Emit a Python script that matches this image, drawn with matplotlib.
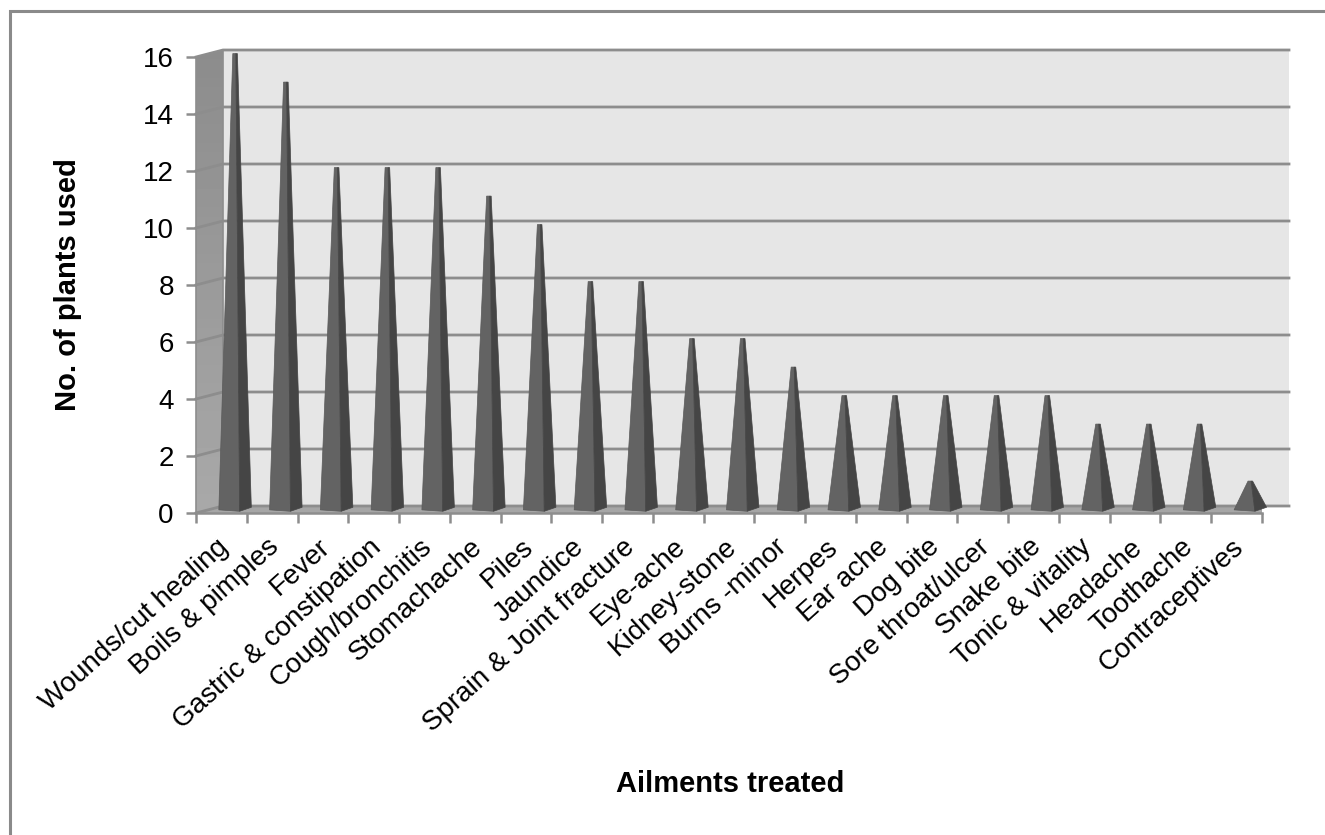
import matplotlib
matplotlib.use('Agg')
import matplotlib.pyplot as plt
import matplotlib.transforms as mtrans
from matplotlib.patches import Polygon
import numpy as np

ailments = ['Wounds/cut healing', 'Boils & pimples', 'Fever', 'Gastric & constipation',
            'Cough/bronchitis', 'Stomachache', 'Piles', 'Jaundice', 'Sprain & Joint fracture',
            'Eye-ache', 'Kidney-stone', 'Burns -minor', 'Herpes', 'Ear ache', 'Dog bite',
            'Sore throat/ulcer', 'Snake bite', 'Tonic & vitality', 'Headache', 'Toothache',
            'Contraceptives']
plants = [16, 15, 12, 12, 12, 11, 10, 8, 8, 6, 6, 5, 4, 4, 4, 4, 4, 3, 3, 3, 1]
yticks = [0, 2, 4, 6, 8, 10, 12, 14, 16]

plt.rcParams['font.family'] = ['Liberation Sans', 'DejaVu Sans']

W, H = 1325, 835
fig = plt.figure(figsize=(W / 100, H / 100), dpi=100)
# frame shows on the top and left only
fig.add_artist(plt.Line2D([9.5 / W, 9.5 / W, 1], [0, 1 - 11 / H, 1 - 11 / H], transform=fig.transFigure,
                          color='#8a8a8a', lw=2.2, solid_joinstyle='miter'))

# front edge of the box, in pixels
left, right, bottom, top = 196, 1262, 513, 57
ax = fig.add_axes([left / W, 1 - bottom / H, (right - left) / W, (bottom - top) / H])
n = len(plants)
ax.patch.set_visible(False)

# depth of the 3d box in data units
dx = 27 / ((right - left) / n)
dy = 7 / ((bottom - top) / 16)
grid_c = '#8d8d8d'

ax.add_patch(Polygon([(dx, dy), (n + dx, dy), (n + dx, 16 + dy), (dx, 16 + dy)],
                     fc='#e6e6e6', ec='none', zorder=1, clip_on=False))
wall = Polygon([(0, 0), (dx, dy), (dx, 16 + dy), (0, 16)], fc='none', ec='none', zorder=1, clip_on=False)
ax.add_patch(wall)
im = ax.imshow(np.linspace(0.55, 0.66, 50).reshape(-1, 1), extent=(0, dx, 0, 16 + dy), cmap='gray',
               vmin=0, vmax=1, aspect='auto', origin='upper', zorder=1)
im.set_clip_box(fig.bbox)
im.set_clip_path(wall)
ax.set_xlim(0, n)
ax.set_ylim(0, 16)
ax.add_patch(Polygon([(0, 0), (n, 0), (n + dx, dy), (dx, dy)], fc='#a6a6a6', ec='none', zorder=2))

for v in yticks:
    ax.plot([0, dx, n + dx], [v, v + dy, v + dy], color=grid_c, lw=2.0, zorder=2, clip_on=False)
ax.plot([dx, dx], [0 + dy, 16 + dy], color=grid_c, lw=1.2, zorder=2, clip_on=False)
ax.plot([0, 0], [0, 16], color=grid_c, lw=1.2, zorder=2, clip_on=False)

# pyramids: two visible faces, slightly blunt at the top
for i, v in enumerate(plants):
    cx = i + 0.5 + 0.27
    tl = (cx - 0.045, v + 0.12)
    tm = (cx + 0.015, v + 0.12)
    tr = (cx + 0.045, v + 0.12)
    bl = (cx - 0.32, 0.11)
    bm = (cx + 0.09, 0.06)
    br = (cx + 0.32, 0.2)
    ax.add_patch(Polygon([bl, bm, tm, tl], fc='#636363', ec='#5a5a5a', lw=0.5, zorder=3, clip_on=False))
    ax.add_patch(Polygon([bm, br, tr, tm], fc='#454545', ec='#454545', lw=0.5, zorder=3, clip_on=False))

for s in ['top', 'right', 'left']:
    ax.spines[s].set_visible(False)
ax.spines['bottom'].set_color(grid_c)
ax.spines['bottom'].set_linewidth(1.8)
ax.spines['bottom'].set_zorder(4)

ax.set_yticks(yticks)
ax.tick_params(axis='y', length=7, width=1.8, color=grid_c, labelsize=20, pad=9)
ax.set_xticks(np.arange(n + 1))
ax.set_xticklabels([])
ax.tick_params(axis='x', which='major', length=7, width=1.8, color=grid_c)
ax.set_xticks(np.arange(n) + 0.5, minor=True)
ax.set_xticklabels(ailments, minor=True, rotation=42, ha='right', va='top',
                   rotation_mode='anchor', fontsize=20)
ax.tick_params(axis='x', which='minor', length=0, pad=15)
shift = mtrans.ScaledTranslation(-5 / 100, 0, fig.dpi_scale_trans)
for lab in ax.get_xticklabels(minor=True):
    lab.set_transform(lab.get_transform() + shift)

fig.text(730 / W, 1 - 784 / H, 'Ailments treated', fontsize=21, fontweight='bold', ha='center', va='center')
fig.text(68 / W, 1 - 285 / H, 'No. of plants used', fontsize=21, fontweight='bold', rotation=90, ha='center', va='center')

fig.savefig('out.png', dpi=100)
